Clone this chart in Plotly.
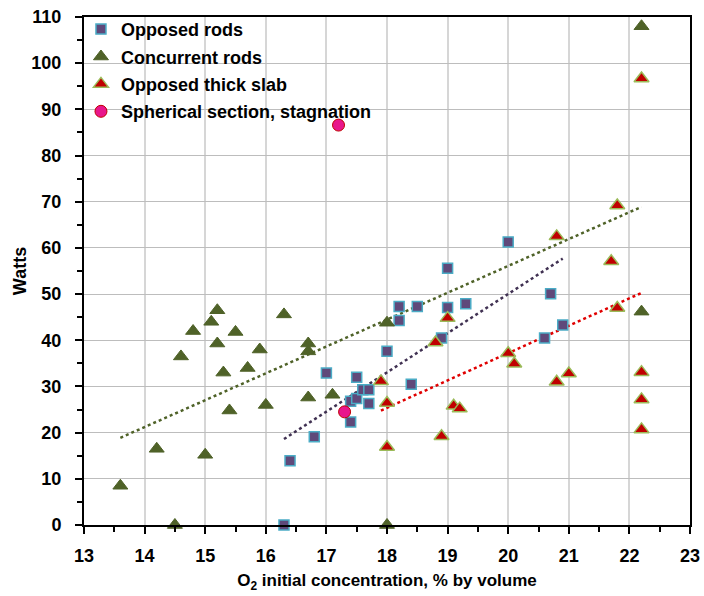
import numpy as np
import plotly.graph_objects as go

# O2 initial concentration (% by volume) and heat release (Watts) per test series
opposed_rods_x = [16.3, 16.4, 16.8, 17.0, 17.4, 17.4, 17.5, 17.5, 17.6, 17.7, 17.7,
                  18.0, 18.2, 18.2, 18.4, 18.5, 18.9, 19.0, 19.0, 19.3, 20.0,
                  20.6, 20.7, 20.9]
opposed_rods_y = [0.0, 13.9, 19.1, 32.9, 22.3, 26.8, 27.4, 32.0, 29.3, 29.3, 26.3,
                  37.6, 44.3, 47.3, 30.5, 47.3, 40.5, 55.6, 47.1, 47.9, 61.3,
                  40.5, 50.1, 43.3]

concurrent_rods_x = [13.6, 14.2, 14.5, 14.6, 14.8, 15.0, 15.1, 15.2, 15.2, 15.3,
                     15.4, 15.5, 15.7, 15.9, 16.0, 16.3, 16.7, 16.7, 16.7, 17.1,
                     18.0, 18.0, 22.2, 22.2]
concurrent_rods_y = [8.5, 16.5, 0.0, 36.5, 42.0, 15.2, 44.0, 46.5, 39.3, 33.0,
                     24.8, 41.8, 34.0, 38.0, 26.0, 45.6, 39.3, 37.6, 27.6, 28.2,
                     43.8, 0.0, 108.0, 46.2]

thick_slab_x = [17.9, 18.0, 18.0, 18.8, 18.9, 19.0, 19.1, 19.2, 20.0, 20.1,
                20.8, 20.8, 21.0, 21.7, 21.8, 21.8, 22.2, 22.2, 22.2, 22.2]
thick_slab_y = [31.1, 26.4, 16.9, 39.5, 19.2, 44.8, 25.8, 25.2, 37.2, 34.9,
                62.5, 31.0, 32.8, 57.1, 69.2, 47.0, 96.7, 33.1, 27.2, 20.7]

spherical_x = [17.2, 17.3]
spherical_y = [86.6, 24.5]

x_ticks = list(range(13, 24))
y_ticks = list(range(0, 111, 10))

FONT = "Liberation Sans, Arial, sans-serif"


def trend(xs, ys):
    """Least-squares linear trendline spanning the data's x range."""
    xs = np.asarray(xs, float)
    ys = np.asarray(ys, float)
    slope, intercept = np.polyfit(xs, ys, 1)
    xe = np.array([xs.min(), xs.max()])
    return xe, slope * xe + intercept


fig = go.Figure()

series = [
    ("Opposed rods", opposed_rods_x, opposed_rods_y,
     dict(symbol="square", size=10, color="#5f497a",
          line=dict(color="#4bacc6", width=1.5)), "#403152"),
    ("Concurrent rods", concurrent_rods_x, concurrent_rods_y,
     dict(symbol="triangle-up", size=13, color="#4f6228",
          line=dict(color="#4f6228", width=1)), "#4f6228"),
    ("Opposed thick slab", thick_slab_x, thick_slab_y,
     dict(symbol="triangle-up", size=13, color="#c00000",
          line=dict(color="#9bbb59", width=1.5)), "#e00000"),
]

# dotted trendlines first so markers sit on top
for name, xs, ys, mk, lc in series:
    tx, ty = trend(xs, ys)
    fig.add_trace(go.Scatter(x=tx, y=ty, mode="lines", showlegend=False,
                             hoverinfo="skip",
                             line=dict(color=lc, width=2.5, dash="dot")))

for i, (name, xs, ys, mk, lc) in enumerate(series):
    fig.add_trace(go.Scatter(x=xs, y=ys, mode="markers", name=name,
                             legendgroup=f"g{i}", marker=mk, cliponaxis=False))

fig.add_trace(go.Scatter(x=spherical_x, y=spherical_y, mode="markers",
                         name="Spherical section, stagnation", legendgroup="g3",
                         marker=dict(symbol="circle", size=12, color="#e8168c",
                                     line=dict(color="#c00000", width=1)),
                         cliponaxis=False))

axis_common = dict(
    showline=True, linecolor="black", linewidth=2, mirror=True,
    ticks="outside", ticklen=7, tickwidth=2, tickcolor="black",
    showgrid=True, zeroline=False, automargin=False,
    tickfont=dict(family=FONT, size=18, color="black", weight="bold"),
)

fig.update_xaxes(
    range=[13, 23], tickvals=x_ticks, gridcolor="#d6d6d6", gridwidth=1.5,
    ticklabelstandoff=6,
    minor=dict(dtick=0.5, ticklen=5, tickwidth=1.5, tickcolor="black",
               ticks="outside", showgrid=False),
    title=dict(text="O<sub>2</sub> initial concentration, % by volume",
               font=dict(family=FONT, size=17, color="black", weight="bold"),
               standoff=10),
    **axis_common,
)
fig.update_yaxes(
    range=[0, 110], tickvals=y_ticks, gridcolor="#bdbdbd", gridwidth=1.2,
    ticklabelstandoff=10,
    minor=dict(dtick=5, ticklen=5, tickwidth=1.5, tickcolor="black",
               ticks="outside", showgrid=False),
    title=dict(text="Watts",
               font=dict(family=FONT, size=18, color="black", weight="bold"),
               standoff=0),
    **axis_common,
)

fig.update_layout(
    width=704, height=596,
    margin=dict(l=84, r=14, t=16, b=71),
    paper_bgcolor="white", plot_bgcolor="white",
    font=dict(family=FONT, color="black"),
    showlegend=True,
    legend=dict(x=-0.005, y=1.01, xanchor="left", yanchor="top",
                bgcolor="rgba(0,0,0,0)", traceorder="grouped",
                tracegroupgap=1,
                font=dict(family=FONT, size=18, color="black", weight="bold")),
)

fig.write_html("out.html")
